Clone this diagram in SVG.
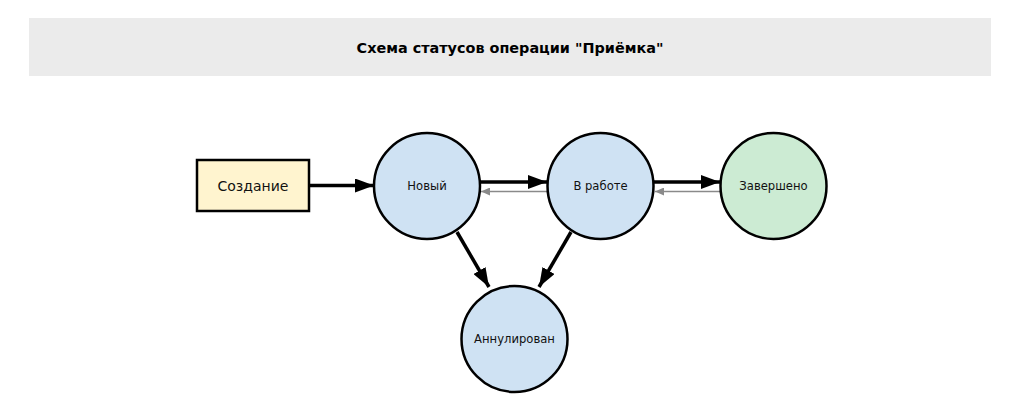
<svg xmlns="http://www.w3.org/2000/svg" width="1020" height="410" viewBox="0 0 1020 410">
<style>
.node{stroke:#000;stroke-width:2.5}
.state{fill:#cfe2f3}
.done{fill:#ccebd3}
.start{fill:#fff4cf}
.lbl{font-family:"DejaVu Sans",sans-serif;font-size:11.6px;fill:#111;text-anchor:middle;dominant-baseline:central}
.main{stroke:#000;stroke-width:3.5;fill:none}
.back{stroke:#8a8a8a;stroke-width:1.6;fill:none}
</style>
<defs>
<marker id="ah" markerUnits="userSpaceOnUse" markerWidth="20" markerHeight="14" refX="19" refY="7" orient="auto">
<path d="M0,0 L19,7 L0,14 z" fill="#000"/>
</marker>
<marker id="ahg" markerUnits="userSpaceOnUse" markerWidth="10" markerHeight="8" refX="9" refY="4" orient="auto">
<path d="M0,0 L9,4 L0,8 z" fill="#8a8a8a"/>
</marker>
</defs>
<rect x="29" y="18" width="962" height="58" fill="#ebebeb"/>
<text x="510" y="48" font-family="DejaVu Sans, sans-serif" font-size="14.4" font-weight="bold" text-anchor="middle" dominant-baseline="central" fill="#000">Схема статусов операции "Приёмка"</text>
<g id="connectors">
<line class="main" x1="309" y1="185.5" x2="374" y2="185.5" marker-end="url(#ah)"/>
<line class="main" x1="480" y1="182" x2="547" y2="182" marker-end="url(#ah)"/>
<line class="back" x1="547" y1="191.5" x2="481" y2="191.5" marker-end="url(#ahg)"/>
<line class="main" x1="654" y1="182" x2="720" y2="182" marker-end="url(#ah)"/>
<line class="back" x1="720" y1="191.5" x2="655" y2="191.5" marker-end="url(#ahg)"/>
<line class="main" x1="457" y1="232" x2="489" y2="287" marker-end="url(#ah)"/>
<line class="main" x1="571" y1="232" x2="539" y2="287" marker-end="url(#ah)"/>
</g>
<g id="node-create">
<rect class="node start" x="197" y="160" width="112" height="51"/>
<text class="lbl" x="253" y="185.5" style="font-size:14px">Создание</text>
</g>
<g id="node-new">
<circle class="node state" cx="427" cy="186" r="53"/>
<text class="lbl" x="427" y="186">Новый</text>
</g>
<g id="node-inwork">
<circle class="node state" cx="600.5" cy="186" r="53"/>
<text class="lbl" x="600.5" y="186">В работе</text>
</g>
<g id="node-done">
<circle class="node done" cx="773.5" cy="186" r="53"/>
<text class="lbl" x="773.5" y="186">Завершено</text>
</g>
<g id="node-cancel">
<circle class="node state" cx="514.5" cy="339" r="53"/>
<text class="lbl" x="514.5" y="339">Аннулирован</text>
</g>
</svg>
